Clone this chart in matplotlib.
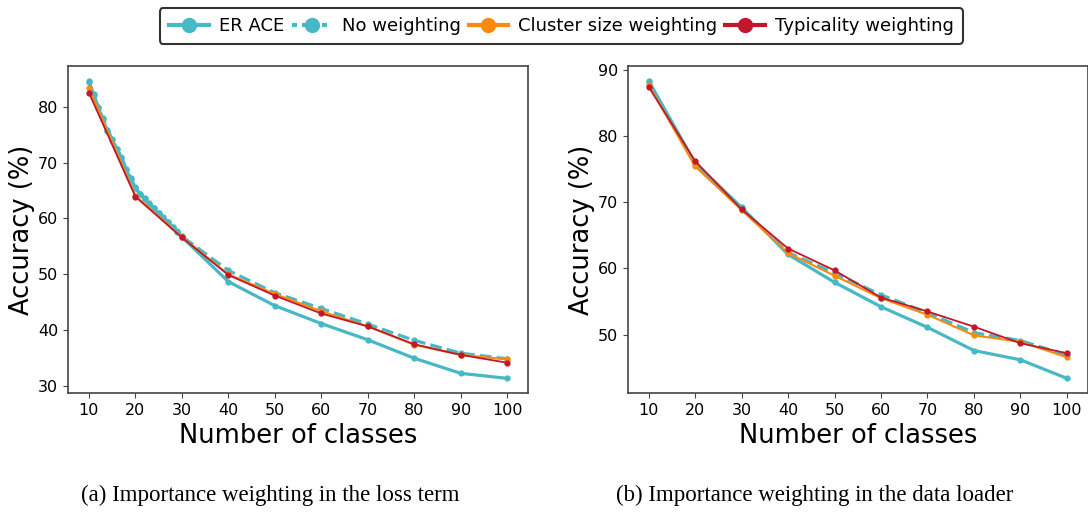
import matplotlib
matplotlib.use('Agg')
import matplotlib.pyplot as plt
from matplotlib.lines import Line2D

# data
classes = [10, 20, 30, 40, 50, 60, 70, 80, 90, 100]
classes_dense = list(range(10, 31)) + [40, 50, 60, 70, 80, 90, 100]

loss_er_ace = [84.4, 82.0, 79.8, 77.7, 75.7, 74.0, 72.4, 70.9, 68.7, 67.0, 65.4,
               64.3, 63.5, 62.6, 61.8, 60.9, 60.1, 59.3, 58.4, 57.6, 56.7,
               48.7, 44.4, 41.2, 38.3, 35.0, 32.3, 31.4]
loss_no_weight = [84.6, 82.2, 80.0, 77.9, 75.9, 74.2, 72.5, 71.0, 68.9, 67.2, 65.6,
                  64.4, 63.6, 62.7, 61.9, 61.0, 60.2, 59.4, 58.5, 57.7, 56.8,
                  50.7, 46.7, 43.9, 41.1, 38.2, 35.9, 34.9]
loss_cluster = [83.3, 64.1, 56.7, 50.0, 46.5, 43.4, 40.7, 37.4, 35.6, 34.8]
loss_typical = [82.5, 63.9, 56.6, 49.9, 46.2, 43.0, 40.7, 37.5, 35.6, 34.2]

loader_er_ace = [88.3, 75.9, 69.2, 62.1, 57.9, 54.2, 51.1, 47.6, 46.2, 43.4]
loader_no_weight = [88.1, 75.8, 69.0, 62.4, 59.3, 56.0, 53.3, 50.3, 49.1, 46.9]
loader_cluster = [87.7, 75.4, 68.8, 62.3, 58.9, 55.5, 53.0, 49.9, 48.9, 46.6]
loader_typical = [87.4, 76.2, 68.9, 63.0, 59.7, 55.6, 53.5, 51.2, 48.7, 47.2]

TEAL = '#47b8c5'
ORANGE = '#fb8a0c'
RED = '#c2172b'

fig = plt.figure(figsize=(10.88, 5.12), dpi=100)
ax1 = fig.add_axes([0.0625, 0.232, 0.4228, 0.639])
ax2 = fig.add_axes([0.577, 0.232, 0.4228, 0.639])


def draw(ax, x_teal, er_ace, no_weight, cluster, typical, yticks):
    ax.plot(x_teal, er_ace, color=TEAL, lw=2.3, marker='o', markersize=3.5)
    ax.plot(x_teal, no_weight, color=TEAL, lw=2.3, ls='--', marker='o', markersize=3.5)
    ax.plot(classes, cluster, color=ORANGE, lw=1.5, marker='o', markersize=3.5)
    ax.plot(classes, typical, color=RED, lw=1.3, marker='o', markersize=3.5)
    ax.set_xticks(classes)
    ax.set_yticks(yticks)
    ax.tick_params(labelsize=11.5, color='#444444')
    ax.set_xlabel('Number of classes', fontsize=18.5)
    ax.set_ylabel('Accuracy (%)', fontsize=18.5, labelpad=2)
    for s in ax.spines.values():
        s.set_color('#444444')
        s.set_linewidth(1.2)


draw(ax1, classes_dense, loss_er_ace, loss_no_weight, loss_cluster, loss_typical,
     [30, 40, 50, 60, 70, 80])
draw(ax2, classes, loader_er_ace, loader_no_weight, loader_cluster, loader_typical,
     [50, 60, 70, 80, 90])

handles = [
    Line2D([], [], color=TEAL, lw=3, marker='o', markersize=10),
    Line2D([], [], color=TEAL, lw=3, ls=(0, (1.2, 1.2)), marker='o', markersize=10),
    Line2D([], [], color=ORANGE, lw=3, marker='o', markersize=10),
    Line2D([], [], color=RED, lw=3, marker='o', markersize=10),
]
labels = ['ER ACE', 'No weighting', 'Cluster size weighting', 'Typicality weighting']
leg = fig.legend(handles, labels, loc='upper center', bbox_to_anchor=(0.516, 1.002), ncol=4,
                 fontsize=13, frameon=True, edgecolor='black', handlelength=2.2,
                 columnspacing=0.45, handletextpad=0.55, borderpad=0.5)
leg.get_frame().set_linewidth(1.5)

fig.text(0.248, 0.022, '(a) Importance weighting in the loss term', ha='center',
         fontsize=16.5, family='Liberation Serif')
fig.text(0.749, 0.022, '(b) Importance weighting in the data loader', ha='center',
         fontsize=16.5, family='Liberation Serif')

fig.savefig('out.png', dpi=100)
